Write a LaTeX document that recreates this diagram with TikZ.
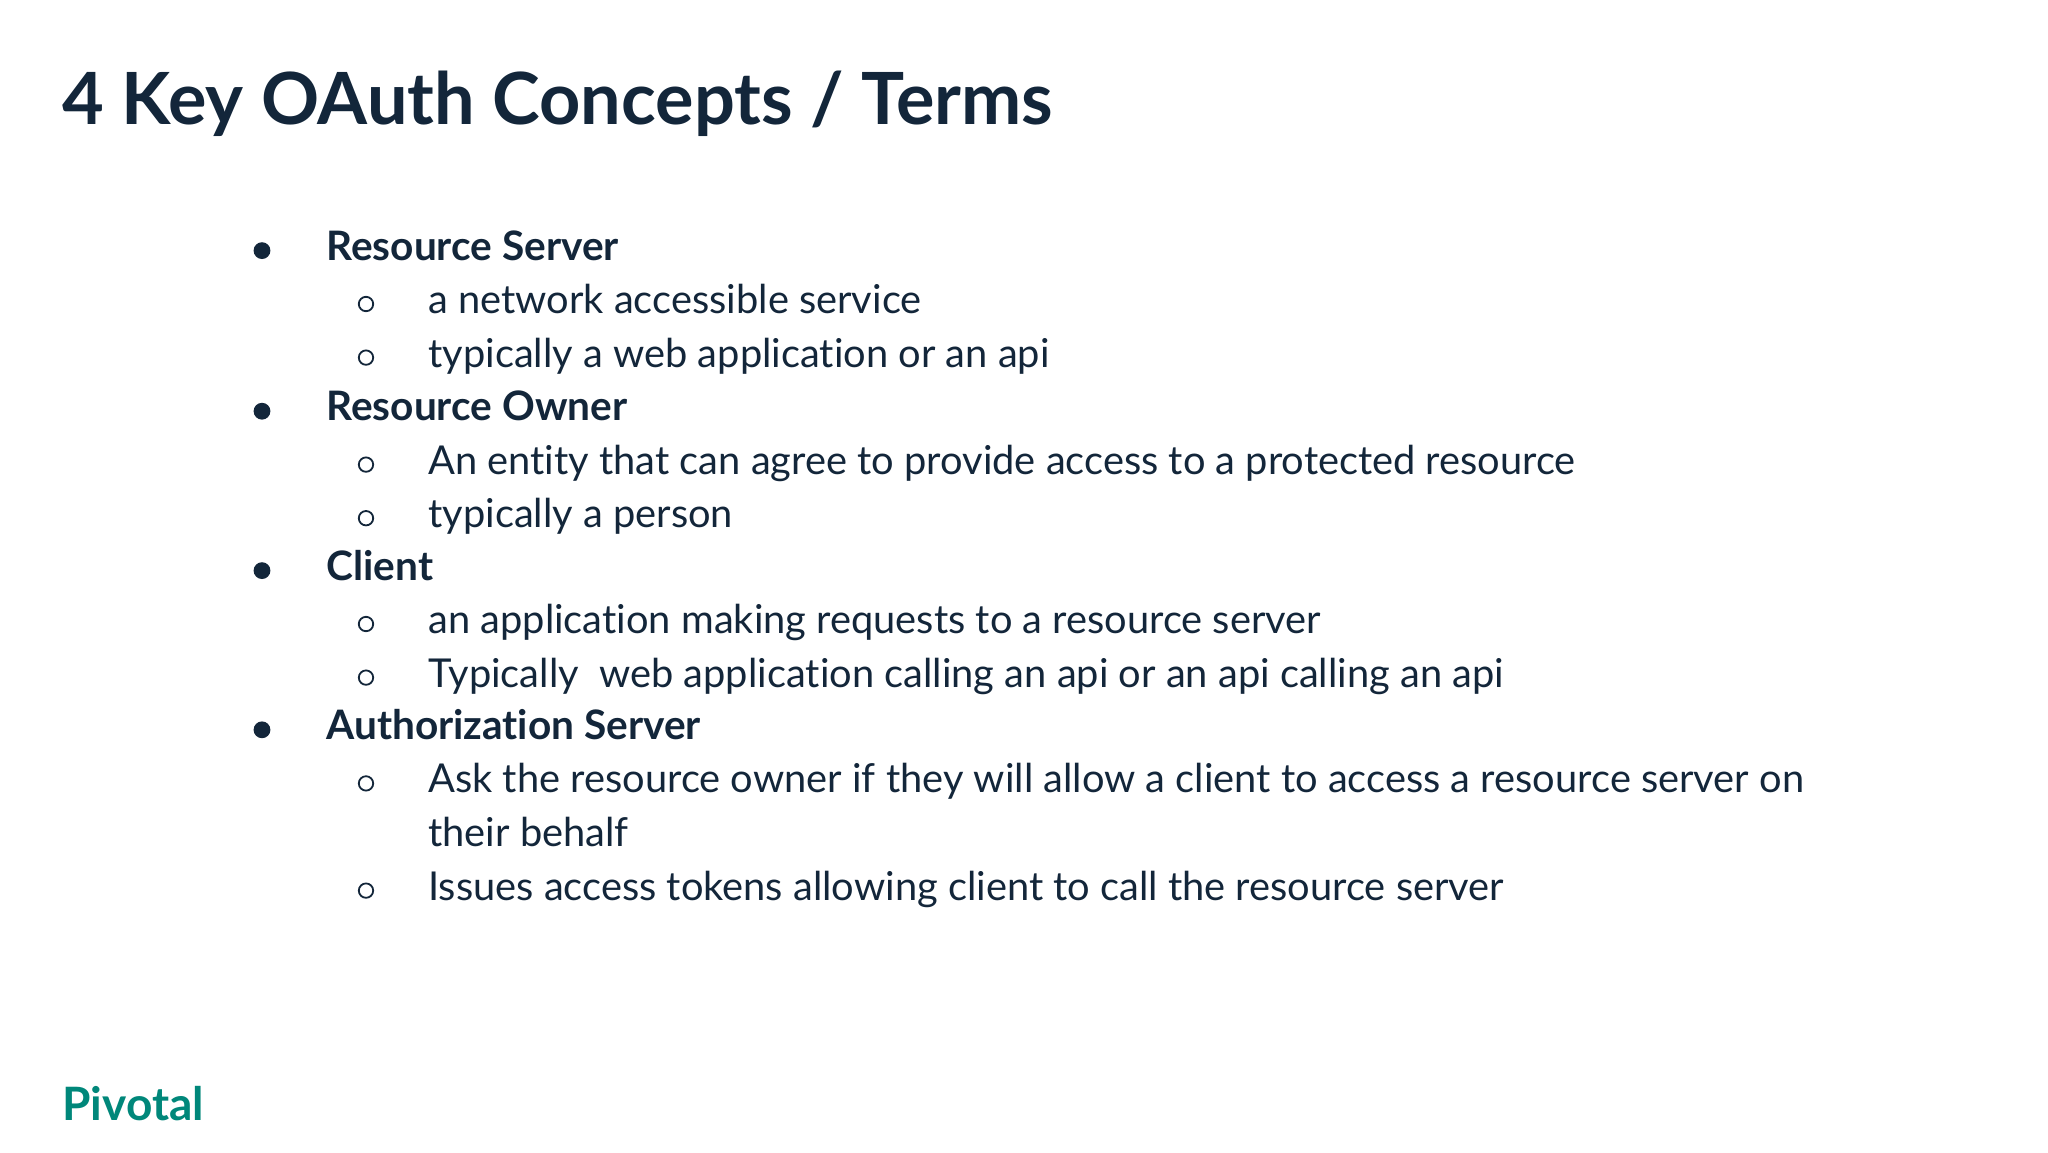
\documentclass[tikz,border=0pt]{standalone}
\usepackage{fontspec}
\setmainfont[Ligatures={NoCommon}]{Lato}
\definecolor{navy}{HTML}{13263A}
\definecolor{teal}{HTML}{00877A}
\begin{document}
\begin{tikzpicture}[x=1pt,y=1pt,
  title/.style={anchor=base west,inner sep=0,font=\fontsize{36}{40}\selectfont\bfseries,text=navy},
  head/.style={anchor=base west,inner sep=0,font=\fontsize{20.3}{22}\selectfont\bfseries,text=navy},
  sub/.style={anchor=base west,inner sep=0,font=\fontsize{19.9}{22}\selectfont,text=navy},
  dot/.style={fill=navy},
  ring/.style={draw=navy,line width=0.9pt}]
\useasboundingbox[fill=white] (0,0) rectangle (1024,-576);
\node[title] (t) at (31,-62) {4 Key OAuth Concepts / Terms};
\def\bx{131}\def\tx{163}\def\sx{183}\def\stx{214}
\foreach \y/\txt [count=\i] in {-130/Resource Server,-210.3/Resource Owner,-290/Client,-369.6/Authorization Server}{
  \fill[dot] (\bx,\y+4.7) circle (4.2);
  \node[head] (h\i) at (\tx,\y) {\txt};
}
\foreach \y/\txt [count=\i] in {
 -156.7/a network accessible service,
 -183.5/typically a web application or an api,
 -237/An entity that can agree to provide access to a protected resource,
 -263.8/typically a person,
 -316.7/an application making requests to a resource server,
 -343.5/{Typically \ web application calling an api or an api calling an api},
 -396.4/Ask the resource owner if they will allow a client to access a resource server on,
 -450/Issues access tokens allowing client to call the resource server}{
  \draw[ring] (\sx,\y+4.7) circle (3.6);
  \node[sub] (s\i) at (\stx,\y) {\txt};
}
\node[sub] (s9) at (\stx,-423.1) {their behalf};
\node[anchor=base west,inner sep=0,font=\fontsize{23}{26}\selectfont\bfseries,text=teal] (logo) at (31,-560) {Pivotal};
\end{tikzpicture}
\end{document}
